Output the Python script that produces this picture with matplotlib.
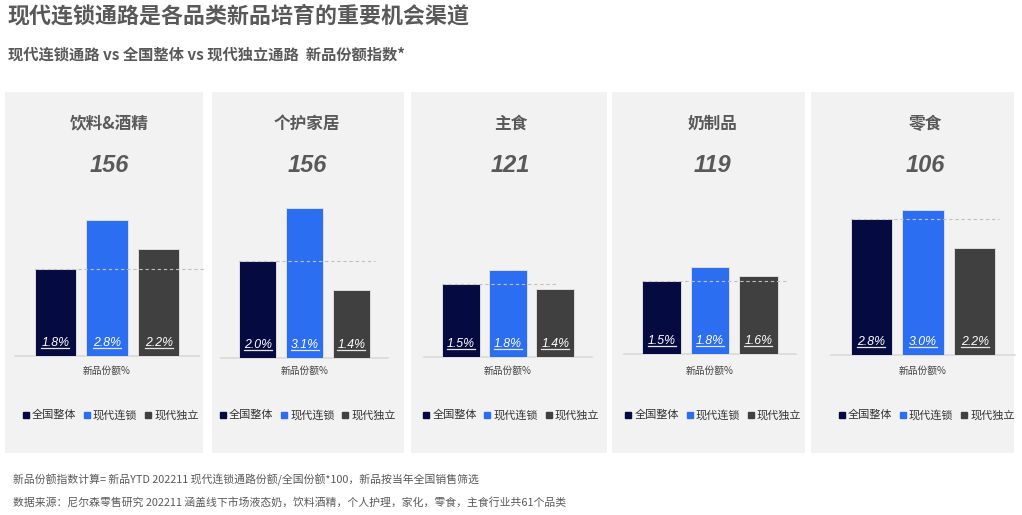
import matplotlib
matplotlib.use('Agg')
import matplotlib.pyplot as plt
import matplotlib.transforms as mtransforms
from matplotlib.patches import Rectangle
from matplotlib.lines import Line2D

plt.rcParams['font.family'] = ['Noto Sans CJK SC', 'DejaVu Sans']

# data
categories = ['饮料&酒精', '个护家居', '主食', '奶制品', '零食']
index_vals = [156, 156, 121, 119, 106]
national = [1.8, 2.0, 1.5, 1.5, 2.8]
modern_chain = [2.8, 3.1, 1.8, 1.8, 3.0]
modern_indep = [2.2, 1.4, 1.4, 1.6, 2.2]
series_names = ['全国整体', '现代连锁', '现代独立']

title = '现代连锁通路是各品类新品培育的重要机会渠道'
subtitle = '现代连锁通路 vs 全国整体 vs 现代独立通路  新品份额指数*'
axis_label = '新品份额%'
note1 = '新品份额指数计算= 新品YTD 202211 现代连锁通路份额/全国份额*100，新品按当年全国销售筛选'
note2 = '数据来源：尼尔森零售研究 202211 涵盖线下市场液态奶，饮料酒精，个人护理，家化，零食，主食行业共61个品类'

# layout in pixels (from the reference picture)
W, H = 1022, 515
panel_x = [(5, 203), (212, 404), (411, 607), (612, 805), (811, 1014)]
axes_x = [(15, 199), (221, 388), (424, 592), (624, 796), (831, 1015)]
base_y = [356, 358, 357, 354, 355]
dash_end = [2.9, 2.5, 2.03, 2.6, 2.48]
px_per_unit = 48.5
ymax = 3.6

colors = ['#050B40', '#2C6EF2', '#404040']
grey_txt = '#595959'

fig = plt.figure(figsize=(W / 100, H / 100), dpi=100)
fig.patch.set_facecolor('white')


def fx(x):
    return x / W


def fy(y):
    return 1 - y / H


fig.text(fx(8), fy(16), title, fontsize=15.8, fontweight='bold', color=grey_txt,
         va='center', ha='left')
fig.text(fx(8), fy(55), subtitle, fontsize=11, fontweight='bold', color=grey_txt,
         va='center', ha='left')
fig.text(fx(13), fy(480), note1, fontsize=7.8, color=grey_txt, va='center', ha='left')
fig.text(fx(13), fy(502), note2, fontsize=7.8, color=grey_txt, va='center', ha='left')

bar_labels = []
for i, cat in enumerate(categories):
    # panel background
    p0, p1 = panel_x[i]
    fig.add_artist(Rectangle((fx(p0), fy(453)), fx(p1 - p0), (453 - 92) / H,
                             transform=fig.transFigure, facecolor='#F2F2F2',
                             edgecolor='none', zorder=-1))
    a0, a1 = axes_x[i]
    top = base_y[i] - ymax * px_per_unit
    ax = fig.add_axes([fx(a0), fy(base_y[i]), fx(a1 - a0), (base_y[i] - top) / H])
    ax.patch.set_alpha(0)
    vals = [national[i], modern_chain[i], modern_indep[i]]
    ax.bar(range(3), vals, width=0.8, color=colors, edgecolor='#DDDDDD',
           linewidth=0.7, zorder=2)
    ax.set_xlim(-0.78, 2.78)
    ax.set_ylim(0, ymax)
    for s in ax.spines.values():
        s.set_visible(False)
    ax.set_xticks([])
    ax.set_yticks([])
    ax.axhline(0, color='#D9D9D9', lw=1.2, zorder=1, clip_on=False)
    ax.plot([-0.4, dash_end[i]], [national[i], national[i]], ls=(0, (3, 2.5)),
            color='#BFBFBF', lw=0.8, zorder=3, clip_on=False)
    for j, v in enumerate(vals):
        t = ax.text(j, 0.26, f'{v:.1f}%', ha='center', va='center', fontsize=8.8,
                    style='italic', color='white', family=['Liberation Sans'], zorder=4)
        bar_labels.append(t)

    tr = mtransforms.blended_transform_factory(ax.transData, fig.transFigure)
    ax.text(1.05, fy(124), cat, transform=tr, ha='center', va='center',
            fontsize=12, fontweight='bold', color=grey_txt)
    ax.text(1.05, fy(166), str(index_vals[i]), transform=tr, ha='center', va='center',
            fontsize=17, fontweight='bold', style='italic', color=grey_txt,
            family=['Liberation Sans'])
    ax.text(1, fy(371), axis_label, transform=tr, ha='center', va='center',
            fontsize=7, color='#404040')

    handles = [Line2D([], [], marker='s', linestyle='none', markersize=4.5,
                      markerfacecolor=c, markeredgecolor=c) for c in colors]
    ax.legend(handles, series_names, loc='center', ncol=3, frameon=False,
              bbox_to_anchor=(1.06, fy(415)), bbox_transform=tr, fontsize=8,
              handlelength=0.7, handletextpad=0.2, columnspacing=0.6,
              borderaxespad=0, borderpad=0, labelcolor='#333333')

# underline the value labels inside the bars
fig.canvas.draw()
renderer = fig.canvas.get_renderer()
inv = fig.transFigure.inverted()
for t in bar_labels:
    bb = t.get_window_extent(renderer)
    (x0, y0), (x1, _) = inv.transform([(bb.x0, bb.y0 + 1.5), (bb.x1, bb.y0)])
    fig.add_artist(Line2D([x0, x1], [y0, y0], transform=fig.transFigure,
                          color='#E6E6E6', lw=0.9, zorder=5))

fig.savefig('out.png', dpi=100)
